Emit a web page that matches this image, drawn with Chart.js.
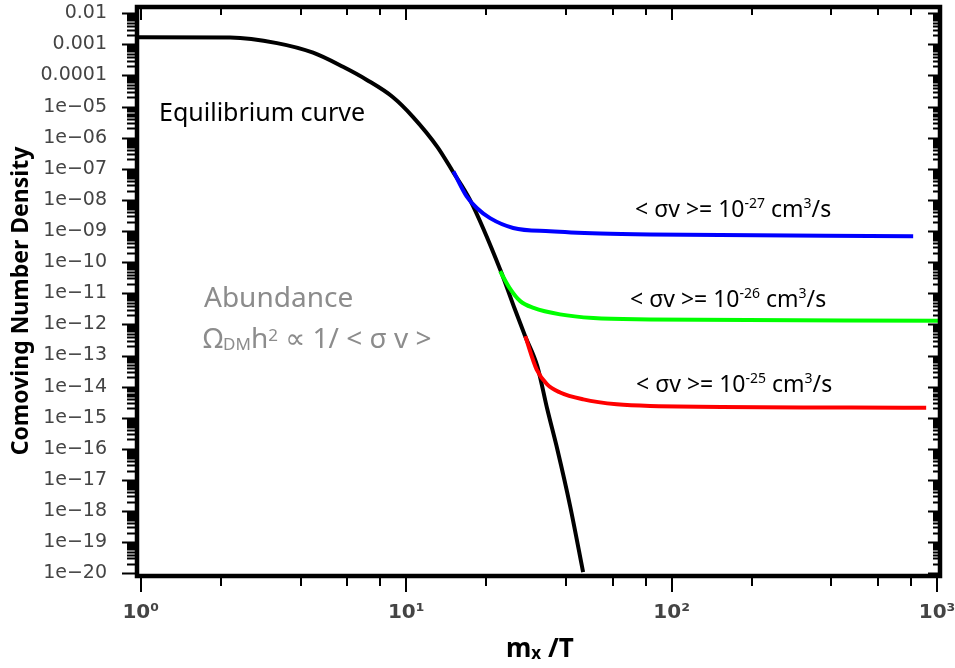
<!DOCTYPE html>
<html>
<head>
<meta charset="utf-8">
<script src="https://cdn.jsdelivr.net/npm/chart.js@4.4.1/dist/chart.umd.min.js"></script>
<style>
  body { margin: 0; background: #fff; }
  canvas { display: block; }
</style>
</head>
<body>
<canvas id="chart" width="955" height="668"></canvas>
<script>
// values (x = m_x/T, y = comoving number density)
const eqX = [0.97, 2.17, 3.26, 4.46, 5.78, 7.11, 8.92, 10.6, 13.1, 15.0, 17.4, 22.6, 25.7, 28.1, 31.2, 34.0, 37.1, 41.5, 46.4];
const eqY = [1.7e-3, 1.66e-3, 1.1e-3, 5.4e-4, 1.9e-4, 7.2e-5, 2.0e-5, 4.7e-6, 5.1e-7, 8.1e-8, 1.0e-8, 5.8e-11, 3.0e-12, 4.1e-13, 4.5e-14, 1.9e-15, 9.7e-17, 1.4e-18, 1.1e-20];

const blueX = [15.06, 16.9, 18.45, 20.7, 25.3, 34.8, 53.8, 83, 813];
const blueY = [8.3e-8, 1.3e-8, 5.5e-9, 2.6e-9, 1.26e-9, 9.8e-10, 8.3e-10, 7.7e-10, 6.8e-10];

const greenX = [22.6, 24.5, 26.9, 30.2, 38.0, 50.7, 83, 1030];
const greenY = [5.1e-11, 1.5e-11, 5.6e-12, 3.4e-12, 2.1e-12, 1.6e-12, 1.45e-12, 1.3e-12];

const redX = [28.1, 31.0, 33.9, 38.0, 46.5, 62.1, 83, 910];
const redY = [4.2e-13, 3.6e-14, 1.2e-14, 6.5e-15, 3.9e-15, 2.7e-15, 2.4e-15, 2.1e-15];

const xTicks = [1, 10, 100, 1000];
const xTickLabels = ['10⁰', '10¹', '10²', '10³'];
const yTicks = [1e-2, 1e-3, 1e-4, 1e-5, 1e-6, 1e-7, 1e-8, 1e-9, 1e-10, 1e-11, 1e-12, 1e-13, 1e-14, 1e-15, 1e-16, 1e-17, 1e-18, 1e-19, 1e-20];
const yTickLabels = ['0.01', '0.001', '0.0001', '1e−05', '1e−06', '1e−07', '1e−08', '1e−09', '1e−10', '1e−11', '1e−12', '1e−13', '1e−14', '1e−15', '1e−16', '1e−17', '1e−18', '1e−19', '1e−20'];

const TEXT_FONT = '"Noto Sans", "DejaVu Sans", sans-serif';

function pts(xs, ys) {
    return xs.map((x, i) => ({ x: x, y: ys[i] }));
}

// draws text pieces one after the other: [text, size factor, y shift]
function drawRich(ctx, x, y, parts, size, weight) {
    let cx = x;
    parts.forEach(p => {
        ctx.font = weight + ' ' + Math.round(size * p[1]) + 'px ' + TEXT_FONT;
        ctx.fillText(p[0], cx, y + p[2]);
        cx += ctx.measureText(p[0]).width;
    });
}

const framePlugin = {
    id: 'frame',
    afterDatasetsDraw(chart) {
        const ctx = chart.ctx;
        const a = chart.chartArea;
        const xs = chart.scales.x;
        const ys = chart.scales.y;
        ctx.save();
        ctx.strokeStyle = '#000';

        // tick marks
        ctx.lineWidth = 2;
        ctx.beginPath();
        for (let e = 0; e < 3; e++) {
            [1, 2, 4, 6, 8].forEach(m => {
                const v = m * Math.pow(10, e);
                const px = Math.round(xs.getPixelForValue(v));
                const major = m === 1;
                ctx.moveTo(px, a.bottom); ctx.lineTo(px, a.bottom + (major ? 16 : 10));
                ctx.moveTo(px, a.top); ctx.lineTo(px, a.top + (major ? 13 : 8));
            });
        }
        const px3 = Math.round(xs.getPixelForValue(1000));
        ctx.moveTo(px3, a.bottom); ctx.lineTo(px3, a.bottom + 16);
        for (let e = -20; e <= -2; e++) {
            for (let m = 1; m <= 9; m++) {
                if (e === -2 && m > 1) break;
                const py = Math.round(ys.getPixelForValue(m * Math.pow(10, e))) + 0.5;
                const major = m === 1;
                ctx.moveTo(a.left, py); ctx.lineTo(a.left - (major ? 15 : 10), py);
                ctx.moveTo(a.right, py); ctx.lineTo(a.right - (major ? 12 : 7), py);
            }
        }
        ctx.stroke();

        // frame
        ctx.lineWidth = 4.5;
        ctx.strokeRect(a.left, a.top, a.right - a.left, a.bottom - a.top);

        // annotations
        ctx.textBaseline = 'alphabetic';
        ctx.textAlign = 'left';
        ctx.fillStyle = '#000';
        ctx.font = '25px ' + TEXT_FONT;
        ctx.fillText('Equilibrium curve', 159, 121);

        const sv = [['-27', 635, 217], ['-26', 630, 307], ['-25', 636, 392]];
        sv.forEach(s => {
            drawRich(ctx, s[1], s[2], [['< σv >= 10', 1, 0], [s[0], 0.62, -9], [' cm', 1, 0], ['3', 0.62, -9], ['/s', 1, 0]], 23, 'normal');
        });

        ctx.fillStyle = '#8c8c8c';
        ctx.font = '28px ' + TEXT_FONT;
        ctx.fillText('Abundance', 204, 307);
        drawRich(ctx, 203, 348, [['Ω', 1, 0], ['DM', 0.62, 2], ['h', 1, 0], ['2', 0.62, -7], [' ∝ 1/ < σ v >', 1, 0]], 28, 'normal');

        // axis titles
        ctx.fillStyle = '#000';
        drawRich(ctx, 506, 657, [['m', 1, 0], ['x', 0.65, 2], [' /T', 1, 0]], 26, 'bold');

        ctx.translate(28, 301);
        ctx.rotate(-Math.PI / 2);
        ctx.textAlign = 'center';
        ctx.font = 'bold 23px ' + TEXT_FONT;
        ctx.fillText('Comoving Number Density', 0, 0);
        ctx.restore();
    }
};

const lineStyle = {
    borderWidth: 4,
    pointRadius: 0,
    fill: false,
    cubicInterpolationMode: 'monotone'
};

new Chart(document.getElementById('chart'), {
    type: 'line',
    data: {
        datasets: [
            Object.assign({ label: '1e-27', data: pts(blueX, blueY), borderColor: '#0000ff' }, lineStyle),
            Object.assign({ label: '1e-26', data: pts(greenX, greenY), borderColor: '#00ff00' }, lineStyle),
            Object.assign({ label: '1e-25', data: pts(redX, redY), borderColor: '#ff0000' }, lineStyle),
            Object.assign({ label: 'Equilibrium', data: pts(eqX, eqY), borderColor: '#000000' }, lineStyle)
        ]
    },
    options: {
        responsive: false,
        animation: false,
        events: [],
        layout: { padding: { top: 7, right: 15, left: 0, bottom: 0 } },
        plugins: { legend: { display: false }, tooltip: { enabled: false } },
        scales: {
            x: {
                type: 'logarithmic',
                min: 0.968,
                max: 1026,
                grid: { display: false, drawTicks: false },
                border: { display: false },
                afterBuildTicks: s => { s.ticks = xTicks.map(v => ({ value: v })); },
                afterFit: s => { s.height = 92; s.paddingLeft = 0; s.paddingRight = 0; },
                ticks: {
                    autoSkip: false,
                    maxRotation: 0,
                    padding: 25,
                    color: '#444',
                    font: { family: '"DejaVu Sans", sans-serif', size: 20, weight: 'bold' },
                    callback: (v, i) => xTickLabels[i]
                }
            },
            y: {
                type: 'logarithmic',
                min: 8.2e-21,
                max: 0.0159,
                grid: { display: false, drawTicks: false },
                border: { display: false },
                afterBuildTicks: s => { s.ticks = yTicks.map(v => ({ value: v })); },
                afterFit: s => { s.width = 137; s.paddingTop = 0; s.paddingBottom = 0; },
                ticks: {
                    autoSkip: false,
                    padding: 30,
                    color: '#444',
                    font: { family: '"DejaVu Sans", sans-serif', size: 19 },
                    callback: (v, i) => yTickLabels[i]
                }
            }
        }
    },
    plugins: [framePlugin]
});
</script>
</body>
</html>
